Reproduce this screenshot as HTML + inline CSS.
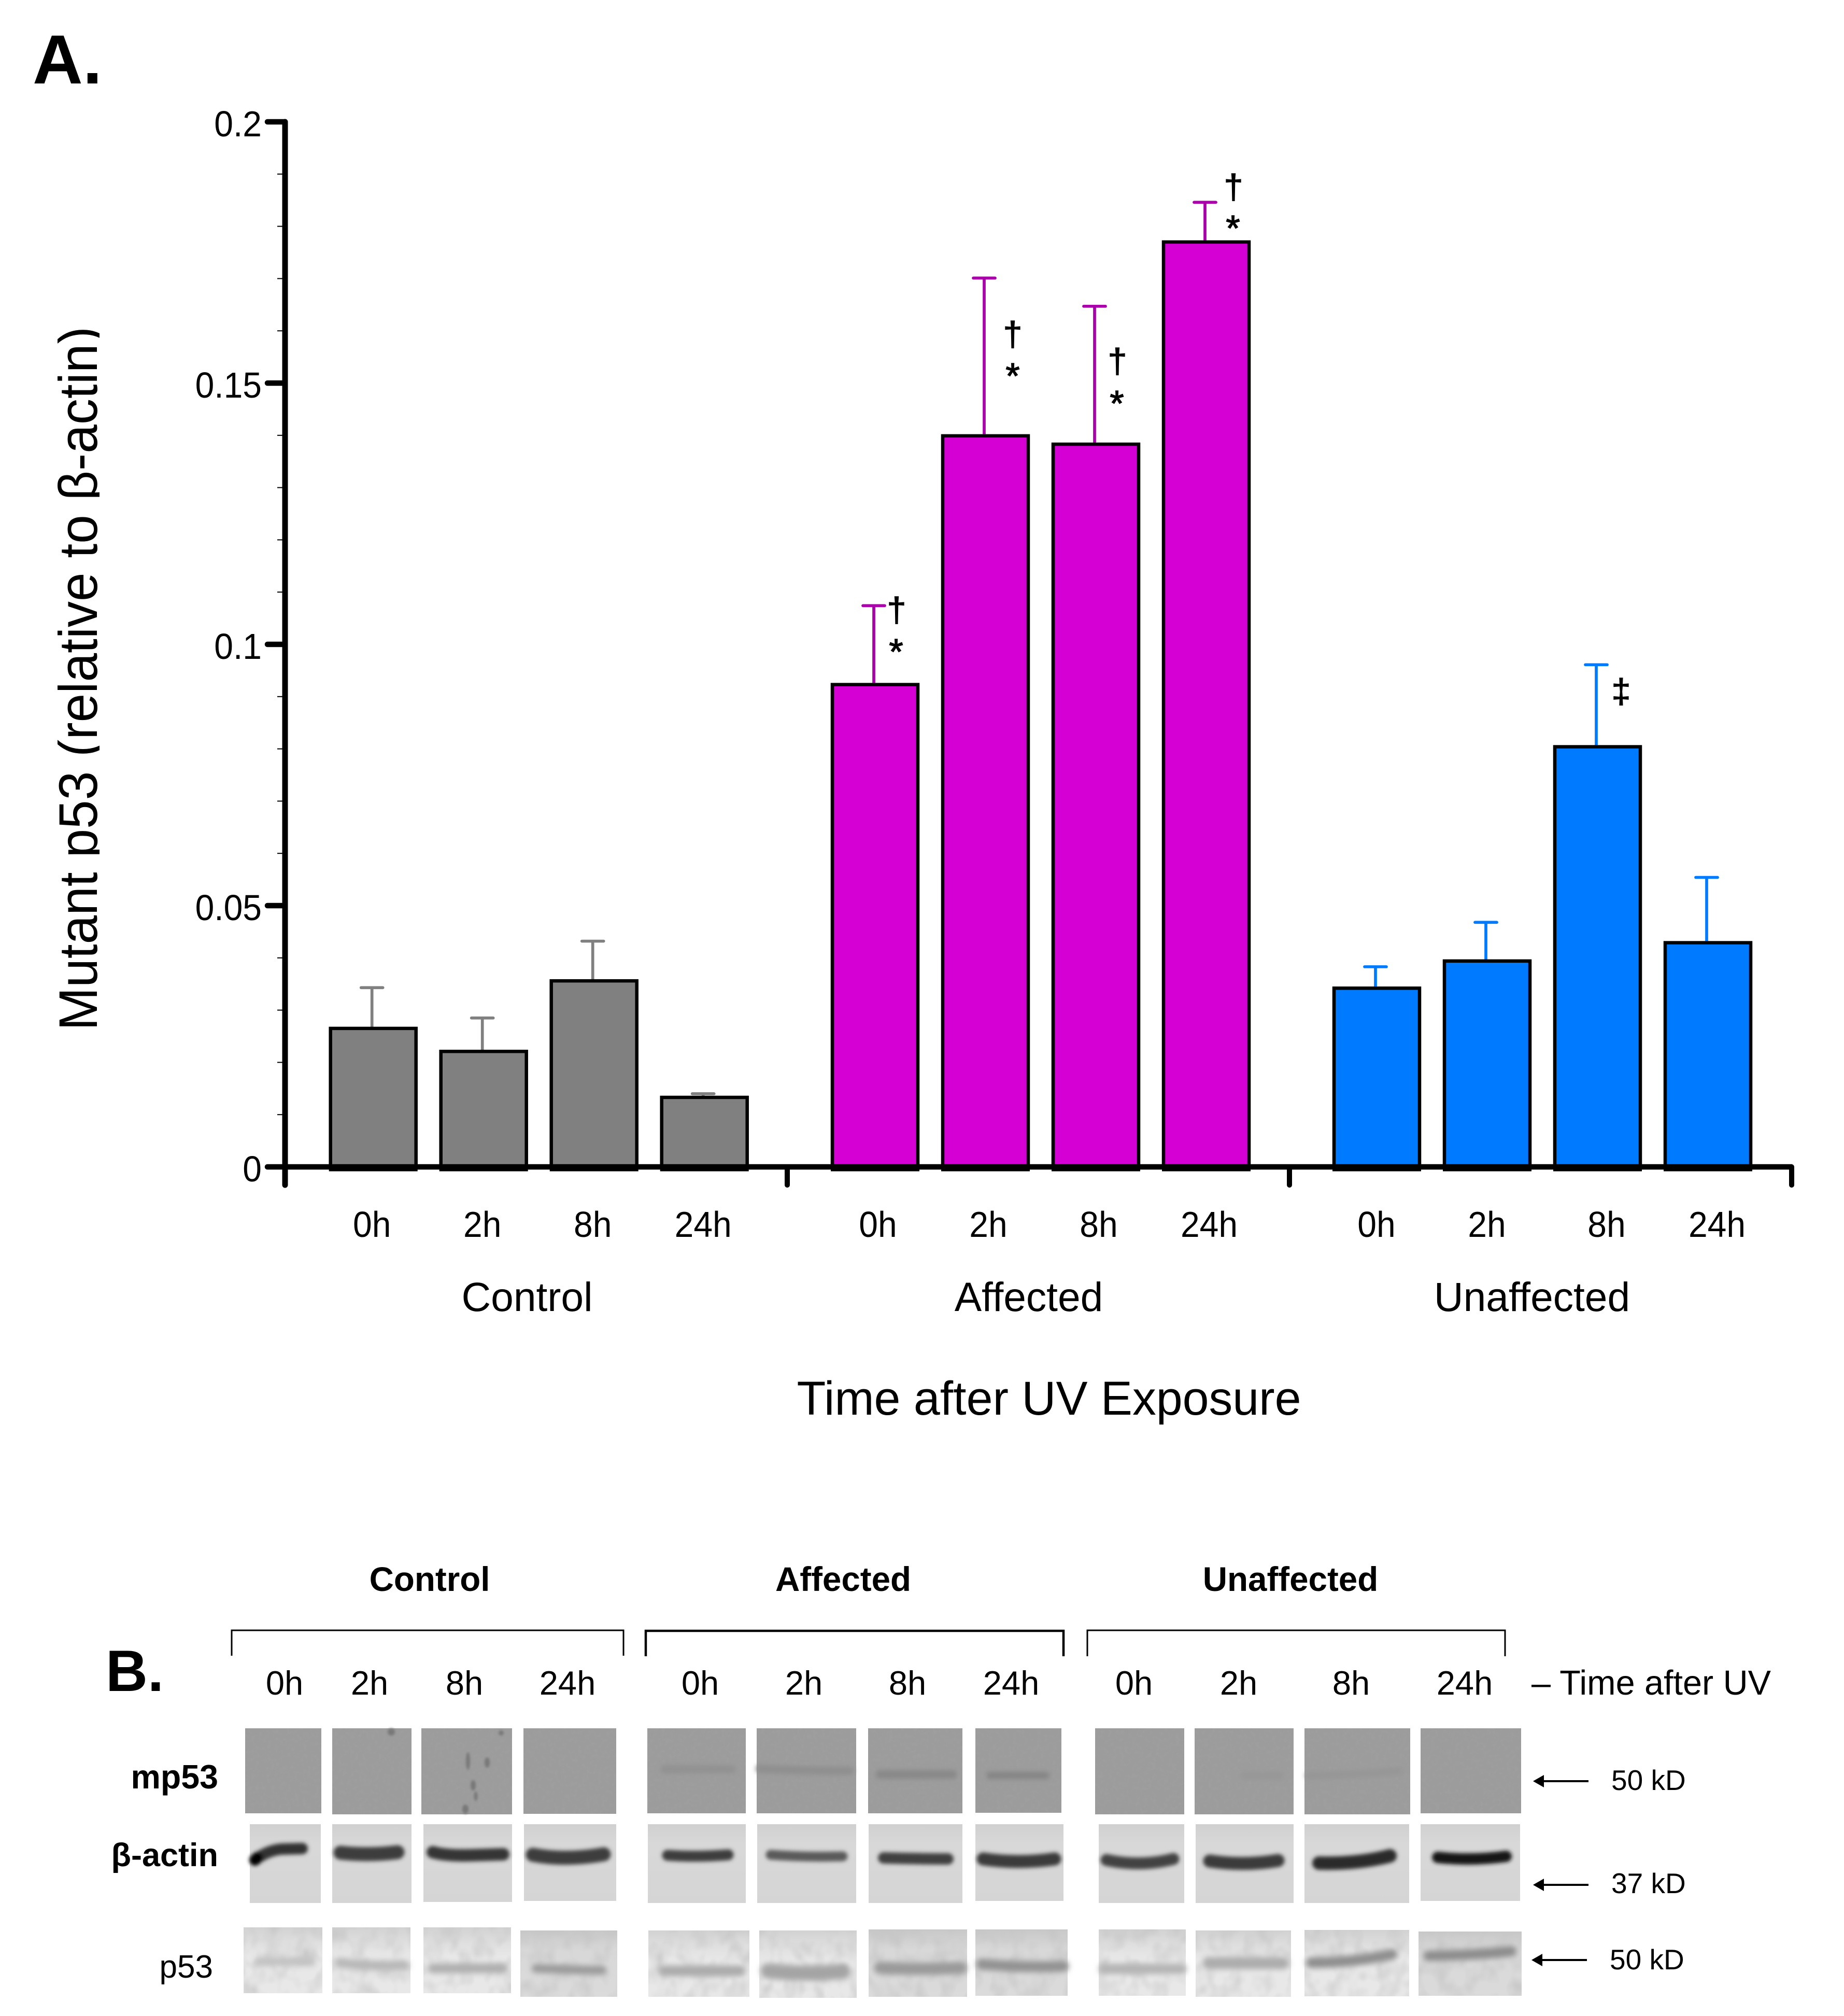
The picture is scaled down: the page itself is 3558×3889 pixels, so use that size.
<!DOCTYPE html>
<html lang="en">
<head>
<meta charset="utf-8">
<title>Mutant p53 after UV exposure</title>
<style>
html,body{margin:0;padding:0;background:#fff}
svg{display:block}
text{font-family:"Liberation Sans",Arial,sans-serif;fill:#000}
</style>
</head>
<body>
<svg id="figure" xmlns="http://www.w3.org/2000/svg" width="3558" height="3889" viewBox="0 0 3558 3889">
<defs>
<clipPath id="title-clip"><rect x="0" y="500" width="192" height="1600"/></clipPath>
<filter id="blur-actin" filterUnits="userSpaceOnUse" x="400" y="3500" width="2600" height="200"><feGaussianBlur stdDeviation="3.6"/></filter>
<filter id="blur-p53" filterUnits="userSpaceOnUse" x="400" y="3700" width="2600" height="180"><feGaussianBlur stdDeviation="5.5"/></filter>
<filter id="blur-mp53" filterUnits="userSpaceOnUse" x="400" y="3320" width="2600" height="200"><feGaussianBlur stdDeviation="4.5"/></filter>
<filter id="blur-speck" filterUnits="userSpaceOnUse" x="400" y="3320" width="2600" height="200"><feGaussianBlur stdDeviation="2.4"/></filter>
<filter id="grain" x="0" y="0" width="1" height="1">
<feTurbulence type="fractalNoise" baseFrequency="0.13" numOctaves="2" seed="4"/>
<feColorMatrix type="matrix" values="0 0 0 0 0.35  0 0 0 0 0.35  0 0 0 0 0.35  0.9 0.9 0 0 -0.72"/>
<feComposite in2="SourceGraphic" operator="in" result="n"/>
<feMerge><feMergeNode in="SourceGraphic"/><feMergeNode in="n"/></feMerge>
</filter>
<filter id="mottle" x="0" y="0" width="1" height="1">
<feTurbulence type="fractalNoise" baseFrequency="0.035 0.028" numOctaves="2" seed="9"/>
<feColorMatrix type="matrix" values="0 0 0 0 0.55  0 0 0 0 0.55  0 0 0 0 0.55  1 1 0 0 -0.85"/>
<feComposite in2="SourceGraphic" operator="in" result="n"/>
<feMerge><feMergeNode in="SourceGraphic"/><feMergeNode in="n"/></feMerge>
</filter>
<linearGradient id="p53-bg" x1="0" y1="0" x2="0" y2="1">
<stop offset="0" stop-color="#d2d2d2"/><stop offset="0.25" stop-color="#e0e0e0"/><stop offset="0.45" stop-color="#e8e8e8"/><stop offset="1" stop-color="#e8e8e8"/>
</linearGradient>
<linearGradient id="p53-bg-dark" x1="0" y1="0" x2="0" y2="1">
<stop offset="0" stop-color="#c8c8c8"/><stop offset="0.3" stop-color="#d8d8d8"/><stop offset="1" stop-color="#dbdbdb"/>
</linearGradient>
<linearGradient id="actin-bg" x1="0" y1="0" x2="0" y2="1">
<stop offset="0" stop-color="#d0d0d0"/><stop offset="0.25" stop-color="#d8d8d8"/><stop offset="1" stop-color="#d5d5d5"/>
</linearGradient>
</defs>

<text x="63" y="161" font-size="134" font-weight="700">A.</text>
<g clip-path="url(#title-clip)">
<text transform="translate(187,1988) rotate(-90) scale(1,1.05)" font-size="100">Mutant p53 (relative to β-actin)</text>
</g>
<text x="2024" y="2729" font-size="91.5" text-anchor="middle">Time after UV Exposure</text>

<g id="chart"></g>

<g font-size="66" text-anchor="middle" stroke="#000" stroke-width="1.5">
<text x="1730" y="1199">†</text>
<text x="1729" y="1281" font-size="70">*</text>
<text x="1954" y="667">†</text>
<text x="1954" y="749" font-size="70">*</text>
<text x="2156" y="719">†</text>
<text x="2155" y="802" font-size="70">*</text>
<text x="2380" y="383">†</text>
<text x="2379" y="464" font-size="70">*</text>
<text x="3128" y="1356">‡</text>
</g>

<g>
<text x="204" y="3262" font-size="112" font-weight="700">B.</text>
<g font-size="65.5" font-weight="700" text-anchor="middle">
<text x="829" y="3069">Control</text>
<text x="1627" y="3069">Affected</text>
<text x="2490" y="3069">Unaffected</text>
</g>
<g fill="none" stroke="#000">
<path stroke-width="3" d="M447 3194V3145H1203V3194"/>
<path stroke-width="4.5" d="M1246 3195V3146H2052V3195"/>
<path stroke-width="3" d="M2098 3195V3145H2904V3195"/>
</g>
<g font-size="65" text-anchor="middle">
<text x="549" y="3269">0h</text>
<text x="713" y="3269">2h</text>
<text x="896" y="3269">8h</text>
<text x="1095" y="3269">24h</text>
<text x="1351" y="3269">0h</text>
<text x="1551" y="3269">2h</text>
<text x="1751" y="3269">8h</text>
<text x="1951" y="3269">24h</text>
<text x="2188" y="3269">0h</text>
<text x="2390" y="3269">2h</text>
<text x="2607" y="3269">8h</text>
<text x="2826" y="3269">24h</text>
</g>
<text x="2955" y="3269" font-size="66.5">– Time after UV</text>
<text x="421" y="3450" font-size="64.5" font-weight="700" text-anchor="end">mp53</text>
<text x="421" y="3600" font-size="63" font-weight="700" text-anchor="end">β-actin</text>
<text x="411" y="3815" font-size="62" text-anchor="end">p53</text>

<g fill="#9c9c9c">
<rect filter="url(#grain)" x="473" y="3334" width="147" height="164"/>
<rect filter="url(#grain)" x="641" y="3334" width="153" height="166"/>
<rect filter="url(#grain)" x="813" y="3334" width="175" height="166"/>
<rect filter="url(#grain)" x="1010" y="3334" width="179" height="165"/>
<rect filter="url(#grain)" x="1249" y="3334" width="190" height="164"/>
<rect filter="url(#grain)" x="1460" y="3334" width="192" height="164"/>
<rect filter="url(#grain)" x="1675" y="3334" width="182" height="164"/>
<rect filter="url(#grain)" x="1882" y="3334" width="166" height="163"/>
<rect filter="url(#grain)" x="2113" y="3334" width="172" height="166"/>
<rect filter="url(#grain)" x="2305" y="3334" width="191" height="166"/>
<rect filter="url(#grain)" x="2517" y="3334" width="204" height="166"/>
<rect filter="url(#grain)" x="2741" y="3334" width="194" height="164"/>
</g>
<g fill="none" stroke-linecap="round" filter="url(#blur-mp53)">
<path stroke="#929292" stroke-width="16" d="M1282 3413H1412"/>
<path stroke="#8f8f8f" stroke-width="16" d="M1466 3412Q1540 3416 1640 3416"/>
<path stroke="#898989" stroke-width="17" d="M1698 3423H1838"/>
<path stroke="#858585" stroke-width="14" d="M1910 3425H2018"/>
<path stroke="#979797" stroke-width="14" d="M2400 3425H2470"/>
<path stroke="#969696" stroke-width="14" d="M2525 3425Q2620 3424 2700 3416"/>
</g>
<g fill="#787878" filter="url(#blur-speck)">
<ellipse cx="903" cy="3397" rx="4" ry="17"/>
<ellipse cx="940" cy="3400" rx="5" ry="10"/>
<ellipse cx="913" cy="3444" rx="5" ry="10"/>
<ellipse cx="918" cy="3465" rx="3.5" ry="9"/>
<ellipse cx="967" cy="3343" rx="5" ry="5"/>
<ellipse cx="898" cy="3490" rx="6" ry="9"/>
<ellipse cx="755" cy="3341" rx="7" ry="7"/>
</g>

<g fill="url(#actin-bg)">
<rect x="482" y="3519" width="137" height="152"/>
<rect x="641" y="3519" width="153" height="152"/>
<rect x="817" y="3519" width="171" height="150"/>
<rect x="1011" y="3519" width="178" height="148"/>
<rect x="1250" y="3519" width="189" height="152"/>
<rect x="1461" y="3519" width="191" height="152"/>
<rect x="1676" y="3519" width="181" height="152"/>
<rect x="1882" y="3519" width="170" height="148"/>
<rect x="2120" y="3519" width="165" height="152"/>
<rect x="2307" y="3519" width="189" height="152"/>
<rect x="2517" y="3519" width="202" height="152"/>
<rect x="2741" y="3519" width="192" height="148"/>
</g>
<g fill="none" stroke-linecap="round" filter="url(#blur-actin)">
<path stroke="#333" stroke-width="22" d="M497 3584Q522 3568 545 3567L583 3566"/>
<path stroke="#000" stroke-width="22" d="M492 3588L496 3584"/>
<path stroke="#3c3c3c" stroke-width="27" d="M657 3574Q712 3580 767 3573"/>
<path stroke="#363636" stroke-width="24" d="M835 3573Q860 3580 905 3579L971 3577"/>
<path stroke="#3e3e3e" stroke-width="27" d="M1028 3578Q1090 3590 1165 3577"/>
<path stroke="#3c3c3c" stroke-width="21" d="M1288 3579Q1346 3583 1405 3578"/>
<path stroke="#5a5a5a" stroke-width="19" d="M1487 3578Q1555 3583 1626 3581"/>
<path stroke="#404040" stroke-width="22" d="M1705 3584Q1767 3586 1829 3586"/>
<path stroke="#3a3a3a" stroke-width="25" d="M1897 3586Q1965 3596 2035 3586"/>
<path stroke="#424242" stroke-width="23" d="M2135 3588Q2200 3602 2264 3586"/>
<path stroke="#3a3a3a" stroke-width="25" d="M2334 3590Q2400 3600 2466 3589"/>
<path stroke="#2a2a2a" stroke-width="26" d="M2545 3594Q2620 3596 2682 3580"/>
<path stroke="#141414" stroke-width="22" d="M2774 3583Q2840 3590 2906 3581"/>
</g>

<g fill="url(#p53-bg)">
<rect filter="url(#mottle)" x="470" y="3718" width="152" height="127"/>
<rect filter="url(#mottle)" x="641" y="3718" width="151" height="127"/>
<rect filter="url(#mottle)" x="817" y="3718" width="169" height="127"/>
<rect filter="url(#mottle)" fill="url(#p53-bg-dark)" x="1004" y="3724" width="187" height="128"/>
<rect filter="url(#mottle)" x="1251" y="3724" width="195" height="128"/>
<rect filter="url(#mottle)" x="1465" y="3724" width="188" height="130"/>
<rect filter="url(#mottle)" fill="url(#p53-bg-dark)" x="1676" y="3722" width="190" height="130"/>
<rect filter="url(#mottle)" fill="url(#p53-bg-dark)" x="1882" y="3722" width="178" height="128"/>
<rect filter="url(#mottle)" x="2120" y="3722" width="168" height="128"/>
<rect filter="url(#mottle)" x="2307" y="3724" width="184" height="128"/>
<rect filter="url(#mottle)" x="2517" y="3723" width="202" height="128"/>
<rect filter="url(#mottle)" fill="url(#p53-bg-dark)" x="2737" y="3726" width="199" height="124"/>
</g>
<g fill="none" stroke-linecap="round" filter="url(#blur-p53)">
<path stroke="#c2c2c2" stroke-width="18" d="M500 3784H600"/>
<path stroke="#b8b8b8" stroke-width="19" d="M655 3786Q710 3794 780 3791"/>
<path stroke="#afafaf" stroke-width="19" d="M835 3797H970"/>
<path stroke="#9a9a9a" stroke-width="17" d="M1034 3797Q1100 3800 1162 3801"/>
<path stroke="#ababab" stroke-width="21" d="M1281 3802H1428"/>
<path stroke="#a4a4a4" stroke-width="29" d="M1482 3802Q1550 3810 1626 3803"/>
<path stroke="#9a9a9a" stroke-width="24" d="M1698 3796Q1775 3800 1854 3796"/>
<path stroke="#929292" stroke-width="21" d="M1894 3789Q1970 3796 2052 3793"/>
<path stroke="#b4b4b4" stroke-width="20" d="M2130 3798H2280"/>
<path stroke="#acacac" stroke-width="23" d="M2332 3787H2476"/>
<path stroke="#8e8e8e" stroke-width="21" d="M2530 3786Q2610 3786 2686 3770"/>
<path stroke="#8c8c8c" stroke-width="20" d="M2756 3773Q2840 3772 2916 3764"/>
</g>

<g>
<path stroke="#000" stroke-width="4" d="M2975 3436H3065"/>
<polygon points="2958,3436 2979,3424 2979,3448"/>
<text x="3109" y="3453" font-size="55">50 kD</text>
<path stroke="#000" stroke-width="4" d="M2975 3636H3065"/>
<polygon points="2958,3636 2979,3624 2979,3648"/>
<text x="3109" y="3652" font-size="55">37 kD</text>
<path stroke="#000" stroke-width="4" d="M2972 3781H3062"/>
<polygon points="2955,3781 2976,3769 2976,3793"/>
<text x="3106" y="3799" font-size="55">50 kD</text>
</g>
</g>
</svg>

<script>
const groupNames = ['Control', 'Affected', 'Unaffected'];
const timeLabels = ['0h', '2h', '8h', '24h'];
const controlMeans = [0.0265, 0.0221, 0.0356, 0.0133];
const controlErrors = [0.0078, 0.0064, 0.0076, 0.0007];
const affectedMeans = [0.0923, 0.1399, 0.1383, 0.1770];
const affectedErrors = [0.0151, 0.0302, 0.0264, 0.0076];
const unaffectedMeans = [0.0342, 0.0394, 0.0804, 0.0429];
const unaffectedErrors = [0.0041, 0.0074, 0.0157, 0.0125];
const yTickValues = [0, 0.05, 0.1, 0.15, 0.2];
const yTickLabels = ['0', '0.05', '0.1', '0.15', '0.2'];
const yMinorValues = [0.01, 0.02, 0.03, 0.04, 0.06, 0.07, 0.08, 0.09, 0.11, 0.12, 0.13, 0.14, 0.16, 0.17, 0.18, 0.19];

const SVG_NS = 'http://www.w3.org/2000/svg';
const chart = document.getElementById('chart');

function yScale(v) { return 2251 - v * 10080; }
function barLeft(g, i) { return [637.7, 1606, 2574][g] + 213 * i; }
function timeLabelX(g, i) {
  const nudge = g === 1 ? 6 : (g === 2 && i >= 2 ? 18 : 0);
  return barLeft(g, i) + 82 + nudge - (g === 0 ? 2 : 0);
}
function groupLabelX(g) { return [1017, 1985, 2956][g]; }
function sepX(k) { return 550 + 969 * k; }

function make(tag, geometry) {
  const el = document.createElementNS(SVG_NS, tag);
  for (const key in geometry) el.setAttribute(key, geometry[key]);
  chart.appendChild(el);
  return el;
}

const barStyles = [
  { fill: '#808080', err: '#808080', means: controlMeans, errors: controlErrors },
  { fill: '#d400d4', err: '#aa00aa', means: affectedMeans, errors: affectedErrors },
  { fill: '#007bff', err: '#007bff', means: unaffectedMeans, errors: unaffectedErrors }
];

barStyles.forEach(function (style, g) {
  style.means.forEach(function (mean, i) {
    const left = barLeft(g, i);
    const cx = left + 80;
    const top = yScale(mean);
    const errTop = yScale(mean + style.errors[i]);

    const stem = make('line', { x1: cx, x2: cx, y1: top, y2: errTop, stroke: style.err, 'stroke-width': 5.7 });
    
    

    const cap = make('line', { x1: cx - 21, x2: cx + 21, y1: errTop, y2: errTop, stroke: style.err, 'stroke-width': 5.7, 'stroke-linecap': 'round' });
    
    

    const bar = make('rect', { x: left, y: top, width: 165, height: 2251 - top, fill: style.fill, stroke: '#000', 'stroke-width': 6.5 });
    
    

    const foot = make('rect', { x: left - 3, y: 2251, width: 171, height: 8.5, fill: '#000' });
    
    

    const label = make('text', { transform: 'translate(' + timeLabelX(g, i) + ',2386) scale(1,1.05)', 'font-size': 66, 'text-anchor': 'middle' });
    label.textContent = timeLabels[i];
    
    
  });

  const groupLabel = make('text', { x: groupLabelX(g), y: 2529, 'font-size': 78.5, 'text-anchor': 'middle' });
  groupLabel.textContent = groupNames[g];
  
  
});

yMinorValues.forEach(function (v) {
  const minor = make('line', { x1: 535, x2: 546, y1: yScale(v), y2: yScale(v), stroke: '#000', 'stroke-width': 2 });
  
  
});

yTickValues.forEach(function (v, i) {
  const y = yScale(v);
  const tick = make('line', { x1: 516, x2: 550, y1: y, y2: y, stroke: '#000', 'stroke-width': 10.5, 'stroke-linecap': 'round' });
  
  

  const label = make('text', { transform: 'translate(505,' + (y + 28) + ') scale(1,1.05)', 'font-size': 66, 'text-anchor': 'end' });
  label.textContent = yTickLabels[i];
  
  
});

const yAxis = make('line', { x1: 550, x2: 550, y1: yScale(0.2), y2: 2286, stroke: '#000', 'stroke-width': 11, 'stroke-linecap': 'round' });



const xAxis = make('line', { x1: 545, x2: 3458, y1: 2251, y2: 2251, stroke: '#000', 'stroke-width': 10.5 });



[1, 2, 3].forEach(function (k) {
  const sep = make('line', { x1: sepX(k), x2: sepX(k), y1: 2251, y2: 2286, stroke: '#000', 'stroke-width': 10, 'stroke-linecap': 'round' });
  
  
});
</script>
</body>
</html>
